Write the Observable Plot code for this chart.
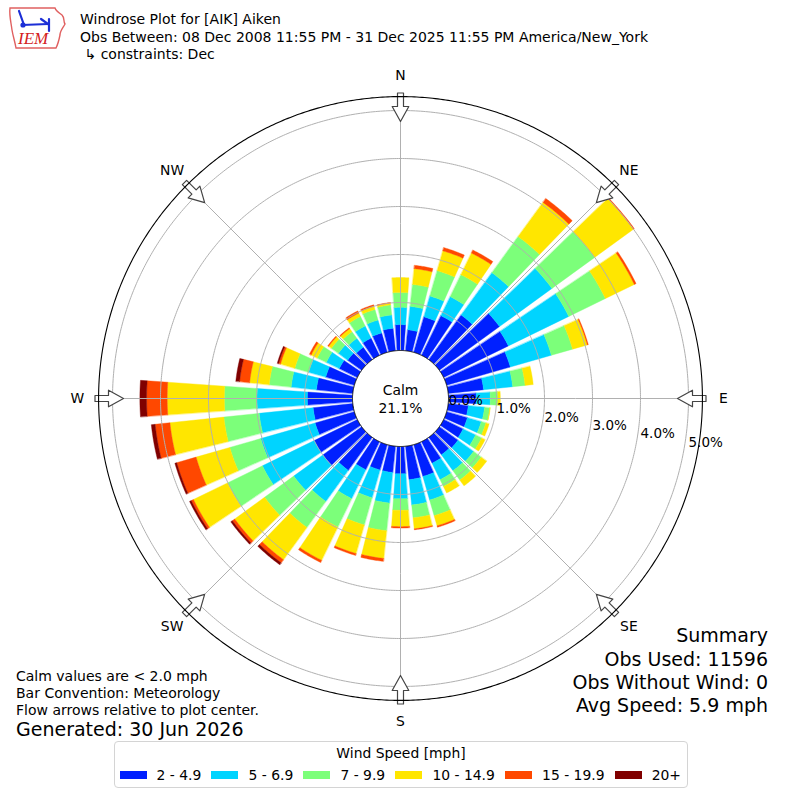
<!DOCTYPE html>
<html>
<head>
<meta charset="utf-8">
<script src="https://cdn.jsdelivr.net/npm/d3@7"></script>
<script src="https://cdn.jsdelivr.net/npm/@observablehq/plot@0.6"></script>
<style>
  html, body { margin: 0; padding: 0; background: #fff; }
  #wrap { position: relative; width: 800px; height: 800px; overflow: hidden; font-family: "DejaVu Sans", sans-serif; color: #000; }
  #wrap svg.plot { position: absolute; left: 0; top: 0; }
  .t { position: absolute; white-space: nowrap; line-height: normal; }
  .s { font-size: 14px; }
  .b { font-size: 19px; }
  #legend { position: absolute; left: 114px; top: 741px; width: 572px; height: 45px; border: 1px solid #d4d4d4; border-radius: 4px; background: #fff; }
  #legend .ttl { position: absolute; left: 0; right: 0; top: 3px; text-align: center; font-size: 13.9px; white-space: nowrap; }
  #legend .row { position: absolute; left: 4.5px; top: 25px; display: flex; align-items: center; font-size: 13.9px; white-space: nowrap; }
  #legend .sw { flex: none; width: 27px; height: 8px; margin-right: 10px; }
  #legend .lb { flex: none; white-space: nowrap; margin-right: 10.2px; }
</style>
</head>
<body>
<div id="wrap"></div>
<script>
// ---------------- data (percent of observations) ----------------
const directions = d3.range(0, 360, 10);
const speedBins = ["2 - 4.9", "5 - 6.9", "7 - 9.9", "10 - 14.9", "15 - 19.9", "20+"];
const binColors = ["#0020ff", "#00d4ff", "#7cff7a", "#ffe600", "#ff4800", "#800000"];

const pct_2_5   = [0.54,0.44,0.77,0.92,1.15,1.55,1.50,1.38,0.74,0.58,0.42,0.45,0.45,0.48,0.45,0.50,0.69,0.70,0.57,0.55,0.55,0.65,0.85,1.00,1.00,0.85,0.83,0.94,0.76,0.62,0.42,0.36,0.32,0.40,0.42,0.47];
const pct_5_7   = [0.36,0.49,0.45,0.44,1.09,1.35,1.40,0.89,0.61,0.29,0.34,0.30,0.29,0.40,0.41,0.38,0.51,0.53,0.52,0.64,0.60,0.67,0.80,0.75,1.20,1.18,1.13,1.05,0.53,0.37,0.30,0.24,0.23,0.28,0.28,0.28];
const pct_7_10  = [0.31,0.46,0.55,0.51,0.93,1.10,0.85,0.46,0.26,0.16,0.11,0.10,0.14,0.20,0.24,0.16,0.34,0.27,0.24,0.58,0.59,0.66,0.67,0.75,0.81,0.67,0.74,0.68,0.46,0.30,0.21,0.18,0.17,0.22,0.23,0.21];
const pct_10_15 = [0.31,0.33,0.43,0.50,0.88,1.00,0.67,0.32,0.17,0.05,0.01,0.07,0.08,0.14,0.15,0.15,0.22,0.23,0.34,0.58,0.62,0.77,0.83,0.77,0.79,0.73,1.13,1.19,0.41,0.31,0.14,0.07,0.08,0.08,0.07,0.04];
const pct_15_20 = [0,0.07,0.07,0.07,0.10,0.02,0.04,0.02,0,0,0,0,0,0,0,0,0.03,0.02,0.03,0.06,0.04,0.05,0.08,0.06,0.05,0.42,0.31,0.43,0.21,0.04,0.04,0.02,0.02,0.05,0.03,0.01];
const pct_20up  = [0,0,0,0,0,0,0,0,0,0,0,0,0,0,0,0,0,0,0,0,0,0,0.05,0.04,0.04,0.04,0.08,0.14,0.08,0.03,0,0,0,0,0,0];
const binValues = [pct_2_5, pct_5_7, pct_7_10, pct_10_15, pct_15_20, pct_20up];

const calmPct = 21.1;
const ringTicks = [0, 1, 2, 3, 4, 5];
const compassPoints = [
  {name: "N", bearing: 0}, {name: "NE", bearing: 45}, {name: "E", bearing: 90}, {name: "SE", bearing: 135},
  {name: "S", bearing: 180}, {name: "SW", bearing: 225}, {name: "W", bearing: 270}, {name: "NW", bearing: 315}
];

// ---------------- radial geometry on an azimuthal-equidistant projection ----------------
const DEG_PER_PCT = 10;      // angular distance from the pole per 1 %
const HOLE_PCT = 1;          // calm hole expressed in % units
const R_MAX_PCT = 5.29;      // outer frame circle
const PX_PER_DEG = 4.8;      // 48 px per 1 %
const FIT_DEG = 398 / PX_PER_DEG; // circle fitted to the 796 px square frame
const BAR_HALF = 4;          // half bar width (degrees of bearing)
const lat = v => 90 - DEG_PER_PCT * (HOLE_PCT + v);
const lon = bearing => 180 - bearing;
const latPx = px => 90 - px / PX_PER_DEG;
// screen offset (east px, south px) from the centre -> [lon, lat]
const fromOffset = (ox, oy) => [lon(90 + Math.atan2(oy, ox) * 180 / Math.PI), latPx(Math.hypot(ox, oy))];

function fixRing(geom) {
  if (d3.geoArea(geom) > 2 * Math.PI) geom.coordinates[0].reverse();
  return geom;
}

function wedge(bearing, v0, v1, bin) {
  const ring = [];
  for (let a = bearing - BAR_HALF; a <= bearing + BAR_HALF + 1e-9; a += 0.5) ring.push([lon(a), lat(v1)]);
  for (let a = bearing + BAR_HALF; a >= bearing - BAR_HALF - 1e-9; a -= 0.5) ring.push([lon(a), lat(v0)]);
  ring.push(ring[0]);
  return {type: "Feature", properties: {bin}, geometry: fixRing({type: "Polygon", coordinates: [ring]})};
}

const bars = [];
directions.forEach((dir, i) => {
  let base = 0;
  binValues.forEach((vals, j) => {
    const v = vals[i];
    if (v > 0) bars.push(wedge(dir, base, base + v, speedBins[j]));
    base += v;
  });
});

const circleDeg = d => d3.geoCircle().center([0, 90]).radius(d).precision(0.5)();
const circle = v => circleDeg(DEG_PER_PCT * (HOLE_PCT + v));
const rings = ringTicks.filter(v => v > 0).map(circle);
const spokes = compassPoints.map(c => ({type: "LineString", coordinates: [[lon(c.bearing), lat(0)], [lon(c.bearing), lat(R_MAX_PCT)]]}));

// hollow flow arrow glyph: [tangential px, radial px]
const arrowShape = [[0, 277], [8.3, 292], [3, 292], [3, 305.5], [-3, 305.5], [-3, 292], [-8.3, 292], [0, 277]];
const arrows = compassPoints.map(c => fixRing({
  type: "Polygon",
  coordinates: [arrowShape.map(([t, r]) => {
    const b = c.bearing + Math.atan2(t, r) * 180 / Math.PI;
    return [lon(b), latPx(Math.hypot(t, r))];
  })]
}));

// radial tick labels sit just right of each ring, stepping downwards
const tickPos = v => {
  const r = PX_PER_DEG * DEG_PER_PCT * (HOLE_PCT + v);
  return fromOffset(r, 2 + 0.175 * (r - 48));
};

const chart = Plot.plot({
  width: 800,
  height: 800,
  marginTop: 0, marginBottom: 4, marginLeft: 2, marginRight: 2,
  projection: {type: "azimuthal-equidistant", rotate: [0, -90], domain: circleDeg(FIT_DEG)},
  color: {domain: speedBins, range: binColors},
  style: {background: "transparent", fontFamily: "DejaVu Sans", overflow: "visible"},
  marks: [
    Plot.geo(bars, {fill: d => d.properties.bin, stroke: d => d.properties.bin, strokeWidth: 0.4}),
    Plot.geo(rings, {stroke: "#b0b0b0", strokeWidth: 1, fill: "none"}),
    Plot.geo(spokes, {stroke: "#b0b0b0", strokeWidth: 1}),
    Plot.geo(circle(0), {fill: "white", stroke: "black", strokeWidth: 1}),
    Plot.geo(arrows, {fill: "white", stroke: "#444", strokeWidth: 1.2}),
    Plot.geo(circle(R_MAX_PCT), {stroke: "black", strokeWidth: 1.1, fill: "none"}),
    Plot.text(ringTicks, {x: d => tickPos(d)[0], y: d => tickPos(d)[1], text: d => d.toFixed(1) + "%", textAnchor: "start", fontSize: 13.5, fill: "black"}),
    Plot.text(compassPoints, {x: d => lon(d.bearing), y: () => latPx(323), text: "name", fontSize: 13.9, fill: "black"}),
    Plot.text([`Calm\n${calmPct.toFixed(1)}%`], {x: () => 0, y: () => 90, fontSize: 13.9, lineHeight: 1.3, fill: "black"})
  ]
});
chart.classList.add("plot");
const wrap = document.getElementById("wrap");
wrap.appendChild(chart);

// ---------------- annotations ----------------
function addText(html, cls, styles) {
  const el = document.createElement("div");
  el.className = "t " + cls;
  el.innerHTML = html;
  Object.assign(el.style, styles);
  wrap.appendChild(el);
}
addText("Windrose Plot for [AIK] Aiken", "s", {left: "80px", top: "11px"});
addText("Obs Between: 08 Dec 2008 11:55 PM - 31 Dec 2025 11:55 PM America/New_York", "s", {left: "80px", top: "29px"});
addText("&nbsp;↳ constraints: Dec", "s", {left: "80px", top: "46px"});

addText("Calm values are &lt; 2.0 mph", "s", {left: "16px", top: "668px"});
addText("Bar Convention: Meteorology", "s", {left: "16px", top: "685px"});
addText("Flow arrows relative to plot center.", "s", {left: "16px", top: "702px"});
addText("Generated: 30 Jun 2026", "b", {left: "16px", top: "718px"});

addText("Summary", "b", {right: "32px", top: "624px"});
addText("Obs Used: 11596", "b", {right: "32px", top: "648px"});
addText("Obs Without Wind: 0", "b", {right: "32px", top: "671px"});
addText("Avg Speed: 5.9 mph", "b", {right: "32px", top: "694px"});

// legend
const legend = document.createElement("div");
legend.id = "legend";
legend.innerHTML = `<div class="ttl">Wind Speed [mph]</div><div class="row">${
  speedBins.map((b, i) => `<span class="sw" style="background:${binColors[i]}"></span><span class="lb">${b}</span>`).join("")
}</div>`;
wrap.appendChild(legend);

// logo
const logo = document.createElementNS("http://www.w3.org/2000/svg", "svg");
logo.setAttribute("width", "64");
logo.setAttribute("height", "52");
logo.style.position = "absolute";
logo.style.left = "5px";
logo.style.top = "2px";
logo.innerHTML = `
  <path d="M5,6 L50,6 C51,9 54,11 57,13 C60,16 58,19 60,22 C58,26 55,29 55,33 C54,38 53,42 51,46 L11,46 C10,40 8,34 7,28 C6,20 4,13 5,6Z" fill="none" stroke="#e06060" stroke-width="1.4"/>
  <g stroke="#1c2fd6" stroke-width="2.2" fill="none" stroke-linecap="round">
    <path d="M14,9 L19,23"/>
    <path d="M17,23 L43,22"/>
    <path d="M44,17 L44,29"/>
    <path d="M36,17 L43,22"/>
  </g>
  <circle cx="18" cy="23" r="2.6" fill="#1c2fd6"/>
  <text x="13" y="42" font-family="Liberation Serif" font-style="italic" font-size="17" fill="#d42020">IEM</text>`;
wrap.appendChild(logo);
</script>
</body>
</html>
